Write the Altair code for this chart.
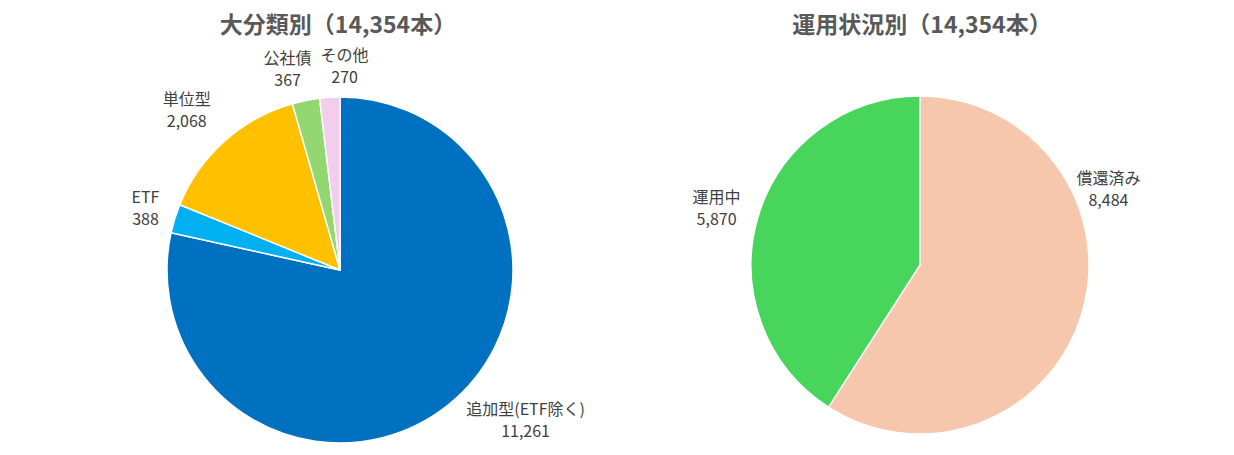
import altair as alt
import pandas as pd

FONT = "Noto Sans CJK JP"

# ---- data ----
left_categories = ["追加型(ETF除く)", "ETF", "単位型", "公社債", "その他"]
left_values = [11261, 388, 2068, 367, 270]
left_colors = ["#0070C0", "#00B0F0", "#FFC000", "#92D76F", "#F2CDEE"]

right_categories = ["償還済み", "運用中"]
right_values = [8484, 5870]
right_colors = ["#F6C7AC", "#47D55B"]

# label nudges (pixels) relative to the polar label position
left_offsets = {
    "追加型(ETF除く)": (54, -24),
    "ETF": (6, -10),
    "単位型": (-13, -14),
    "公社債": (-11, -5),
    "その他": (17, -4),
}
right_offsets = {
    "償還済み": (-13, -145),
    "運用中": (-2, -8),
}


def pie(cats, vals, colors, title_prefix, outer, width, height, offsets,
        title_offset, title_dx):
    total = sum(vals)
    df = pd.DataFrame({"cat": cats, "value": vals, "idx": list(range(len(cats)))})
    base = alt.Chart(df)
    theta_scale = alt.Scale(domain=[0, total])
    arcs = base.mark_arc(outerRadius=outer, stroke="white", strokeWidth=1.5).encode(
        theta=alt.Theta("value:Q", stack=True, scale=theta_scale),
        color=alt.Color("cat:N", scale=alt.Scale(domain=cats, range=colors), legend=None),
        order=alt.Order("idx:Q", sort="ascending"),
    )
    lab_base = base.transform_window(
        cum="sum(value)", sort=[alt.SortField("idx")]
    ).transform_calculate(
        mid="datum.cum - datum.value / 2",
        label="datum.cat + '\\n' + format(datum.value, ',')",
    )
    layers = [arcs]
    for cat in cats:
        dx, dy = offsets[cat]
        layers.append(
            lab_base.transform_filter(alt.datum.cat == cat).mark_text(
                radius=210, dx=dx, dy=dy, fontSize=16, font=FONT, color="#404040",
                lineBreak="\n", lineHeight=22, align="center", baseline="middle",
            ).encode(
                theta=alt.Theta("mid:Q", stack=None, scale=theta_scale),
                text="label:N",
            )
        )
    title = f"{title_prefix}（{total:,}本）"
    return alt.layer(*layers).properties(
        width=width,
        height=height,
        title=alt.TitleParams(
            text=title, fontSize=23, font=FONT, fontWeight="bold", color="#595959",
            anchor="middle", offset=title_offset, dx=title_dx,
        ),
    )


left = pie(left_categories, left_values, left_colors, "大分類別", 173, 654, 338,
           left_offsets, 10, -2)
right = pie(right_categories, right_values, right_colors, "運用状況別", 169, 486, 328,
            right_offsets, 55, 2)

chart = alt.hconcat(left, right, spacing=10).resolve_scale(
    color="independent", theta="independent"
).properties(
    padding={"left": 5, "top": 7, "right": 5, "bottom": 0}
).configure_view(stroke=None).configure(font=FONT)

chart.save("out.html", embed_options={"renderer": "svg", "actions": False})
